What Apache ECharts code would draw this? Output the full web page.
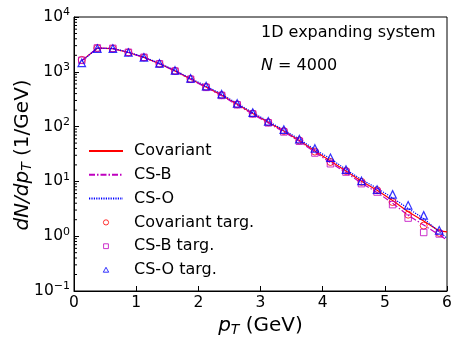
<!DOCTYPE html>
<html>
<head>
<meta charset="utf-8">
<script src="https://cdn.jsdelivr.net/npm/echarts@6/dist/echarts.min.js"></script>
<style>html,body{margin:0;padding:0;background:#fff}#c{width:463px;height:347px}</style>
</head>
<body>
<div id="c"></div>
<script>
// bin centres (GeV)
const ptBins = [0.125,0.375,0.625,0.875,1.125,1.375,1.625,1.875,2.125,2.375,2.625,2.875,3.125,3.375,3.625,3.875,4.125,4.375,4.625,4.875,5.125,5.375,5.625,5.875];
const ptLine = [0.125,0.375,0.625,0.875,1.125,1.375,1.625,1.875,2.125,2.375,2.625,2.875,3.125,3.375,3.625,3.875,4.125,4.375,4.625,4.875,5.125,5.375,5.625,5.875,6.0];

const covariantLine = [1600,2700,2650,2250,1830,1400,1040,740,530,375,255,173,120,83,56,36,23.5,15.5,10.1,6.9,4.5,2.8,1.9,1.25,1.2];
const csBLine       = [1600,2700,2650,2250,1820,1390,1030,730,520,365,248,168,116,80,54,34,22,14.5,9.3,6.3,4.0,2.4,1.6,1.05,0.85];
const csOLine       = [1550,2700,2680,2280,1860,1430,1060,760,550,390,265,180,125,87,59,38,26,16.5,10.8,7.5,5.0,3.2,2.1,1.2,0.92];

const covariantTarg = [1650,2700,2650,2260,1830,1400,1040,740,530,375,255,173,120,83,56,35,22.6,15.5,9.8,6.9,4.2,2.47,1.56,1.15];
const csBTarg       = [1620,2720,2680,2270,1840,1400,1030,730,520,370,250,170,117,80,54,33,21,14.8,9.1,6.4,3.77,2.14,1.17,1.1];
const csOTarg       = [1450,2650,2650,2250,1830,1420,1060,760,550,390,265,180,125,88,59,40,27,16.4,10.2,7.1,5.8,3.66,2.4,1.28];

const seriesNames = ['Covariant','CS-B','CS-O','Covariant targ.','CS-B targ.','CS-O targ.'];
const xTicks = [0,1,2,3,4,5,6];
const yTicks = [0.1,1,10,100,1000,10000];
const yMinorTicks = [];
for (let e = -1; e < 4; e++) for (let m = 2; m <= 9; m++) yMinorTicks.push(m * Math.pow(10, e));

const zip = (xs, ys) => ys.map((y, i) => [xs[i], y]);
const RED = '#ff0000', MAG = '#bf00bf', BLUE = '#0000ff';
const FONT = 'DejaVu Sans';

// small legend markers centred in a 34x14 legend box
const ICON_CIRCLE = 'path://M0,0M34,14M19.6,7A2.6,2.6,0,1,1,14.4,7A2.6,2.6,0,1,1,19.6,7Z';
const ICON_SQUARE = 'path://M0,0M34,14M14.6,4.6L19.4,4.6L19.4,9.4L14.6,9.4Z';
const ICON_TRI    = 'path://M0,0M34,14M17,4.3L19.7,9.2L14.3,9.2Z';
const hollow = c => ({color: 'rgba(0,0,0,0)', borderColor: c, borderWidth: 1});

const chart = echarts.init(document.getElementById('c'), null, {renderer: 'canvas'});
chart.setOption({
  animation: false,
  backgroundColor: '#fff',
  textStyle: {fontFamily: FONT},
  grid: {left: 74, right: 16, top: 17, bottom: 56, show: true, borderColor: '#000', borderWidth: 1},
  title: [
    {text: '1D expanding system', left: 261, top: 25, padding: 0, textStyle: {fontFamily: FONT, fontSize: 16, fontWeight: 'normal', color: '#000'}},
    {text: '{i|N} = 4000', left: 261, top: 58, padding: 0, textStyle: {fontFamily: FONT, fontSize: 16, fontWeight: 'normal', color: '#000',
      rich: {i: {fontFamily: FONT, fontSize: 16, fontStyle: 'italic', color: '#000'}}}}
  ],
  legend: {
    left: 88, top: 143, padding: 0, orient: 'vertical', itemWidth: 34, itemHeight: 14, itemGap: 7.8,
    textStyle: {fontFamily: FONT, fontSize: 16, color: '#000', lineHeight: 14, padding: [0,0,0,6]},
    data: [
      {name: seriesNames[0], itemStyle: {opacity: 0}},
      {name: seriesNames[1], itemStyle: {opacity: 0}},
      {name: seriesNames[2], itemStyle: {opacity: 0}},
      {name: seriesNames[3], icon: ICON_CIRCLE, itemStyle: hollow(RED)},
      {name: seriesNames[4], icon: ICON_SQUARE, itemStyle: hollow(MAG)},
      {name: seriesNames[5], icon: ICON_TRI, itemStyle: hollow(BLUE)}
    ]
  },
  graphic: [{
    type: 'text', x: 23, y: 155, rotation: Math.PI / 2, silent: true,
    style: {
      text: '{i|dN/dp}{s|T}{n| (1/GeV)}', align: 'center', verticalAlign: 'middle', fill: '#000',
      font: '20px "DejaVu Sans"',
      rich: {
        i: {fontFamily: FONT, fontSize: 20, fontStyle: 'italic', fill: '#000'},
        s: {fontFamily: FONT, fontSize: 14, fontStyle: 'italic', fill: '#000', padding: [9,0,0,0]},
        n: {fontFamily: FONT, fontSize: 20, fill: '#000'}
      }
    }
  }],
  xAxis: {
    type: 'value', min: 0, max: 6, interval: 1,
    name: '{i|p}{s|T}{n| (GeV)}', nameLocation: 'middle', nameGap: 21,
    nameTextStyle: {fontFamily: FONT, fontSize: 20, color: '#000',
      rich: {i: {fontFamily: FONT, fontSize: 20, fontStyle: 'italic'}, s: {fontFamily: FONT, fontSize: 14, fontStyle: 'italic', padding: [9,0,0,0]}, n: {fontFamily: FONT, fontSize: 20}}},
    axisLine: {show: true, lineStyle: {color: '#000'}},
    axisTick: {inside: true, length: 5, lineStyle: {color: '#000'}},
    axisLabel: {fontFamily: FONT, fontSize: 15.5, color: '#000', margin: 4},
    splitLine: {show: false}
  },
  yAxis: {
    type: 'log', logBase: 10, min: 0.1, max: 10000,
    axisLine: {show: true, lineStyle: {color: '#000'}},
    axisTick: {inside: true, length: 5, lineStyle: {color: '#000'}},
    axisLabel: {margin: 4, formatter: v => {
        const e = Math.round(Math.log10(v));
        return '{b|10}{s|' + (e < 0 ? '\u2212' + (-e) : e) + '}';
      },
      rich: {b: {fontFamily: FONT, fontSize: 15.5, color: '#000'}, s: {fontFamily: FONT, fontSize: 11, color: '#000', verticalAlign: 'top', padding: [0,0,9,0]}}},
    splitLine: {show: false}
  },
  series: [
    {name: seriesNames[0], type: 'line', data: zip(ptLine, covariantLine), showSymbol: false, symbol: 'none', color: RED,
      lineStyle: {color: RED, width: 1.2, type: 'solid'}, z: 3},
    {name: seriesNames[1], type: 'line', data: zip(ptLine, csBLine), showSymbol: false, symbol: 'none', color: MAG,
      lineStyle: {color: MAG, width: 1.2, type: [6,2,1.5,2]}, z: 3},
    {name: seriesNames[2], type: 'line', data: zip(ptLine, csOLine), showSymbol: false, symbol: 'none', color: BLUE,
      lineStyle: {color: BLUE, width: 1.2, type: [1.2,1.2]}, z: 3},
    {name: seriesNames[3], type: 'scatter', data: zip(ptBins, covariantTarg), symbol: 'circle', symbolSize: 7, color: RED,
      itemStyle: hollow(RED), z: 4},
    {name: seriesNames[4], type: 'scatter', data: zip(ptBins, csBTarg), symbol: 'rect', symbolSize: 6.5, color: MAG,
      itemStyle: hollow(MAG), z: 4},
    {name: seriesNames[5], type: 'scatter', data: zip(ptBins, csOTarg), symbol: 'triangle', symbolSize: 7.5, color: BLUE,
      itemStyle: {color: 'rgba(0,0,0,0)', borderColor: BLUE, borderWidth: 1.2}, z: 4},
    {name: 'minorTicks', type: 'custom', silent: true, z: 5,
      data: yMinorTicks.map(v => [0, v]),
      renderItem: (params, api) => {
        const p = api.coord([0, api.value(1)]);
        return {type: 'line', shape: {x1: p[0], y1: p[1], x2: p[0] + 3, y2: p[1]}, style: {stroke: '#000', lineWidth: 1}};
      }}
  ]
});
</script>
</body>
</html>
